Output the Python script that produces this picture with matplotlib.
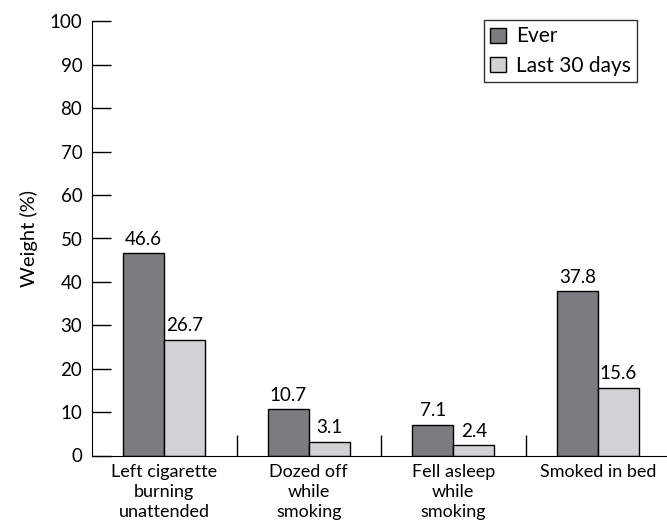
import matplotlib
matplotlib.use("Agg")
import matplotlib.pyplot as plt
import numpy as np

# Datos
categorias = ["Left cigarette\nburning\nunattended", "Dozed off\nwhile\nsmoking",
              "Fell asleep\nwhile\nsmoking", "Smoked in bed"]
ever = [46.6, 10.7, 7.1, 37.8]
last30 = [26.7, 3.1, 2.4, 15.6]
series = ["Ever", "Last 30 days"]
yticks = list(range(0, 101, 10))

plt.rcParams['font.family'] = ['Lato', 'DejaVu Sans']
plt.rcParams['font.size'] = 13

fig = plt.figure(figsize=(6.67, 5.28), dpi=100)
ax = fig.add_axes([92 / 667, 72.5 / 528, 578 / 667, 434 / 528])

x = np.arange(len(categorias))
w = 0.284
b1 = ax.bar(x - w / 2, ever, w, color="#7b7c80", edgecolor="black", linewidth=1, label=series[0])
b2 = ax.bar(x + w / 2, last30, w, color="#d1d2d4", edgecolor="black", linewidth=1, label=series[1])
ax.bar_label(b1, fmt="%.1f", padding=4, fontsize=13.5)
ax.bar_label(b2, fmt="%.1f", padding=4, fontsize=13.5)

ax.set_xlim(-0.5, 3.5)
ax.set_ylim(0, 100)
ax.set_yticks(yticks)
ax.tick_params(axis="y", direction="in", length=14, width=1, pad=7, labelsize=13.5)

# ticks entre categorias
ax.set_xticks([0.5, 1.5, 2.5], minor=True)
ax.set_xticks(x)
ax.set_xticklabels(categorias, linespacing=1.3)
ax.tick_params(axis="x", which="major", length=0, pad=6)
ax.tick_params(axis="x", which="minor", direction="in", length=15, width=1)

ax.spines["top"].set_visible(False)
ax.spines["right"].set_visible(False)
ax.set_ylabel("Weight (%)", labelpad=8, fontsize=14.5)

leg = ax.legend(loc="upper left", bbox_to_anchor=(392 / 578, 1.003), frameon=True, fancybox=False,
                edgecolor="black", fontsize=15, handlelength=0.75, handleheight=0.75,
                handletextpad=0.5, borderpad=0.3, labelspacing=0.45, borderaxespad=0)
leg.get_frame().set_linewidth(1)

fig.savefig("out.png", dpi=100)
